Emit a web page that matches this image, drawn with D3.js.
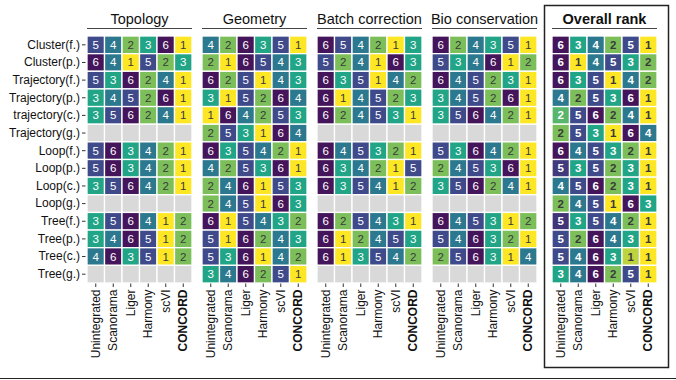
<!DOCTYPE html>
<html>
<head>
<meta charset="utf-8">
<script src="https://cdn.jsdelivr.net/npm/d3@7"></script>
<style>
  body { margin: 0; background: #fff; }
  svg { display: block; font-family: 'Liberation Sans', Arial, sans-serif; }
</style>
</head>
<body>
<div class="container"></div>
<script>
const methods = ['Unintegrated', 'Scanorama', 'Liger', 'Harmony', 'scVI', 'CONCORD'];
const rowNames = [
  'Cluster(f.)', 'Cluster(p.)', 'Trajectory(f.)', 'Trajectory(p.)', 'trajectory(c.)',
  'Trajectory(g.)', 'Loop(f.)', 'Loop(p.)', 'Loop(c.)', 'Loop(g.)',
  'Tree(f.)', 'Tree(p.)', 'Tree(c.)', 'Tree(g.)'
];
const panelNames = ['Topology', 'Geometry', 'Batch correction', 'Bio conservation', 'Overall rank'];

const topology = [
  [5, 4, 2, 3, 6, 1], [6, 4, 1, 5, 2, 3], [5, 3, 6, 2, 4, 1], [3, 4, 5, 2, 6, 1],
  [3, 5, 6, 2, 4, 1], null, [5, 6, 3, 4, 2, 1], [5, 6, 3, 4, 2, 1],
  [3, 5, 6, 4, 2, 1], null, [3, 5, 6, 4, 1, 2], [3, 4, 6, 5, 1, 2],
  [4, 6, 3, 5, 1, 2], null
];
const geometry = [
  [4, 2, 6, 3, 5, 1], [2, 1, 6, 5, 4, 3], [6, 2, 5, 1, 4, 3], [3, 1, 5, 2, 6, 4],
  [1, 6, 4, 2, 5, 3], [2, 5, 3, 1, 6, 4], [6, 3, 5, 4, 2, 1], [4, 2, 5, 3, 6, 1],
  [2, 4, 6, 1, 5, 3], [2, 4, 5, 1, 6, 3], [6, 1, 5, 4, 3, 2], [5, 1, 6, 2, 4, 3],
  [5, 3, 6, 1, 4, 2], [3, 4, 6, 2, 5, 1]
];
const batchCorrection = [
  [6, 5, 4, 2, 1, 3], [5, 2, 4, 1, 6, 3], [6, 3, 5, 1, 4, 2], [6, 1, 4, 5, 2, 3],
  [6, 2, 4, 5, 3, 1], null, [6, 4, 5, 3, 2, 1], [6, 3, 4, 2, 1, 5],
  [6, 3, 5, 4, 1, 2], null, [6, 2, 5, 4, 3, 1], [6, 1, 2, 4, 5, 3],
  [6, 1, 3, 5, 4, 2], null
];
const bioConservation = [
  [6, 2, 4, 3, 5, 1], [5, 3, 4, 6, 1, 2], [6, 4, 5, 2, 3, 1], [3, 4, 5, 2, 6, 1],
  [3, 5, 6, 4, 2, 1], null, [5, 3, 6, 4, 2, 1], [2, 4, 5, 3, 6, 1],
  [3, 5, 6, 2, 4, 1], null, [6, 4, 5, 3, 1, 2], [5, 4, 6, 3, 2, 1],
  [2, 5, 6, 3, 1, 4], null
];
const overallRank = [
  [6, 3, 4, 2, 5, 1], [6, 1, 4, 5, 3, 2], [6, 3, 5, 1, 4, 2], [4, 2, 5, 3, 6, 1],
  [2, 5, 6, 2, 4, 1], [2, 5, 3, 1, 6, 4], [6, 4, 5, 3, 2, 1], [5, 3, 5, 2, 3, 1],
  [4, 5, 6, 2, 3, 1], [2, 4, 5, 1, 6, 3], [5, 3, 5, 4, 2, 1], [5, 2, 6, 4, 3, 1],
  [5, 4, 6, 3, 1, 1], [3, 4, 6, 2, 5, 1]
];
// mean-rank score behind the overall colours (ties are shaded apart)
const overallScore = [
  [6, 3, 4, 2, 5, 1], [6, 1, 4, 5, 3, 2], [6, 3, 5, 1, 4, 2], [4, 2, 5, 3, 6, 1],
  [2.4, 5, 6, 2, 4, 1], [2, 5, 3, 1, 6, 4], [6, 4, 5, 3, 2, 1], [5.3, 3, 5, 2, 3, 1],
  [4, 5, 6, 2, 3, 1], [2, 4, 5, 1, 6, 3], [5.4, 3, 5, 4, 2, 1], [5, 2, 6, 4, 3, 1],
  [5, 4, 6, 3, 1.5, 1], [3, 4, 6, 2, 5, 1]
];

const panelData = [topology, geometry, batchCorrection, bioConservation, overallRank];

const w = 676;
const h = 380;

const svg = d3
  .select('.container')
  .append('svg')
  .attr('width', w)
  .attr('height', h);

const color = d3
  .scaleLinear()
  .domain([1, 2, 3, 4, 5, 6])
  .range(['#fde725', '#7cbf5a', '#22a587', '#2c788e', '#3f4a8a', '#45155b']);

const xPanel = d3.scaleBand().domain(panelNames).range([87, 652]).paddingInner(10 / 115);
const panelX = (p) => xPanel(p) + (p === 'Overall rank' ? 5 : 0);
const xCol = d3.scaleBand().domain(methods).range([0, xPanel.bandwidth()]);
const yRow = d3.scaleBand().domain(rowNames).range([36, 283]);

// box around the overall panel
svg
  .append('rect')
  .attr('x', 544.5)
  .attr('y', 5.5)
  .attr('width', 124)
  .attr('height', 362)
  .attr('fill', 'none')
  .attr('stroke', '#222')
  .attr('stroke-width', 1.5);

// row labels
const yAxis = svg
  .append('g')
  .attr('transform', 'translate(85.5,0)')
  .call(d3.axisLeft(yRow).tickSize(3.5).tickPadding(2));
yAxis.select('.domain').remove();
yAxis.selectAll('line').attr('stroke', '#333');
yAxis
  .selectAll('text')
  .attr('fill', '#111')
  .style('font-size', '12px')
  .style('font-family', "'Liberation Sans', Arial, sans-serif");

panelNames.forEach((p, pi) => {
  const x0 = panelX(p);
  const data = panelData[pi];
  const isOverall = p === 'Overall rank';
  const g = svg.append('g').attr('transform', 'translate(' + x0 + ',0)');

  g.append('text')
    .attr('x', xPanel.bandwidth() / 2)
    .attr('y', 24)
    .attr('text-anchor', 'middle')
    .style('font-size', '14.5px')
    .style('font-weight', isOverall ? 'bold' : 'normal')
    .attr('fill', '#111')
    .text(p);

  g.append('line')
    .attr('x1', 0)
    .attr('x2', xPanel.bandwidth())
    .attr('y1', 28.5)
    .attr('y2', 28.5)
    .attr('stroke', '#444')
    .attr('stroke-width', 1);

  const cells = [];
  rowNames.forEach((r, ri) => {
    methods.forEach((m, mi) => {
      const v = data[ri] ? data[ri][mi] : null;
      const s = isOverall ? overallScore[ri][mi] : v;
      cells.push({ r, m, v, s });
    });
  });

  g.selectAll('rect')
    .data(cells)
    .enter()
    .append('rect')
    .attr('x', (d) => xCol(d.m))
    .attr('y', (d) => yRow(d.r))
    .attr('width', xCol.bandwidth())
    .attr('height', yRow.bandwidth())
    .attr('fill', (d) => (d.v === null ? '#d9d9d9' : color(d.s)))
    .attr('stroke', '#fff')
    .attr('stroke-width', 1.3);

  g.selectAll('text.val')
    .data(cells.filter((d) => d.v !== null))
    .enter()
    .append('text')
    .attr('class', 'val')
    .attr('x', (d) => xCol(d.m) + xCol.bandwidth() / 2)
    .attr('y', (d) => yRow(d.r) + yRow.bandwidth() / 2 + 4)
    .attr('text-anchor', 'middle')
    .style('font-size', '11.5px')
    .style('font-weight', isOverall ? 'bold' : 'normal')
    .attr('fill', (d) => (d.s < 2.3 ? '#3a3a3a' : '#fff'))
    .text((d) => d.v);

  const xAxis = g
    .append('g')
    .attr('transform', 'translate(0,283.5)')
    .call(d3.axisBottom(xCol).tickSize(3.5).tickPadding(2));
  xAxis.select('.domain').remove();
  xAxis.selectAll('line').attr('stroke', '#333');
  xAxis
    .selectAll('text')
    .attr('transform', 'rotate(-90)')
    .attr('text-anchor', 'end')
    .attr('dy', '0.35em')
    .attr('x', -6)
    .attr('y', 0)
    .attr('fill', '#111')
    .style('font-size', '12px')
    .style('font-weight', (d) => (d === 'CONCORD' ? 'bold' : 'normal'))
    .style('font-family', "'Liberation Sans', Arial, sans-serif");
});

svg
  .append('line')
  .attr('x1', 0)
  .attr('x2', w)
  .attr('y1', 378.5)
  .attr('y2', 378.5)
  .attr('stroke', '#222')
  .attr('stroke-width', 1.2);
</script>
</body>
</html>
